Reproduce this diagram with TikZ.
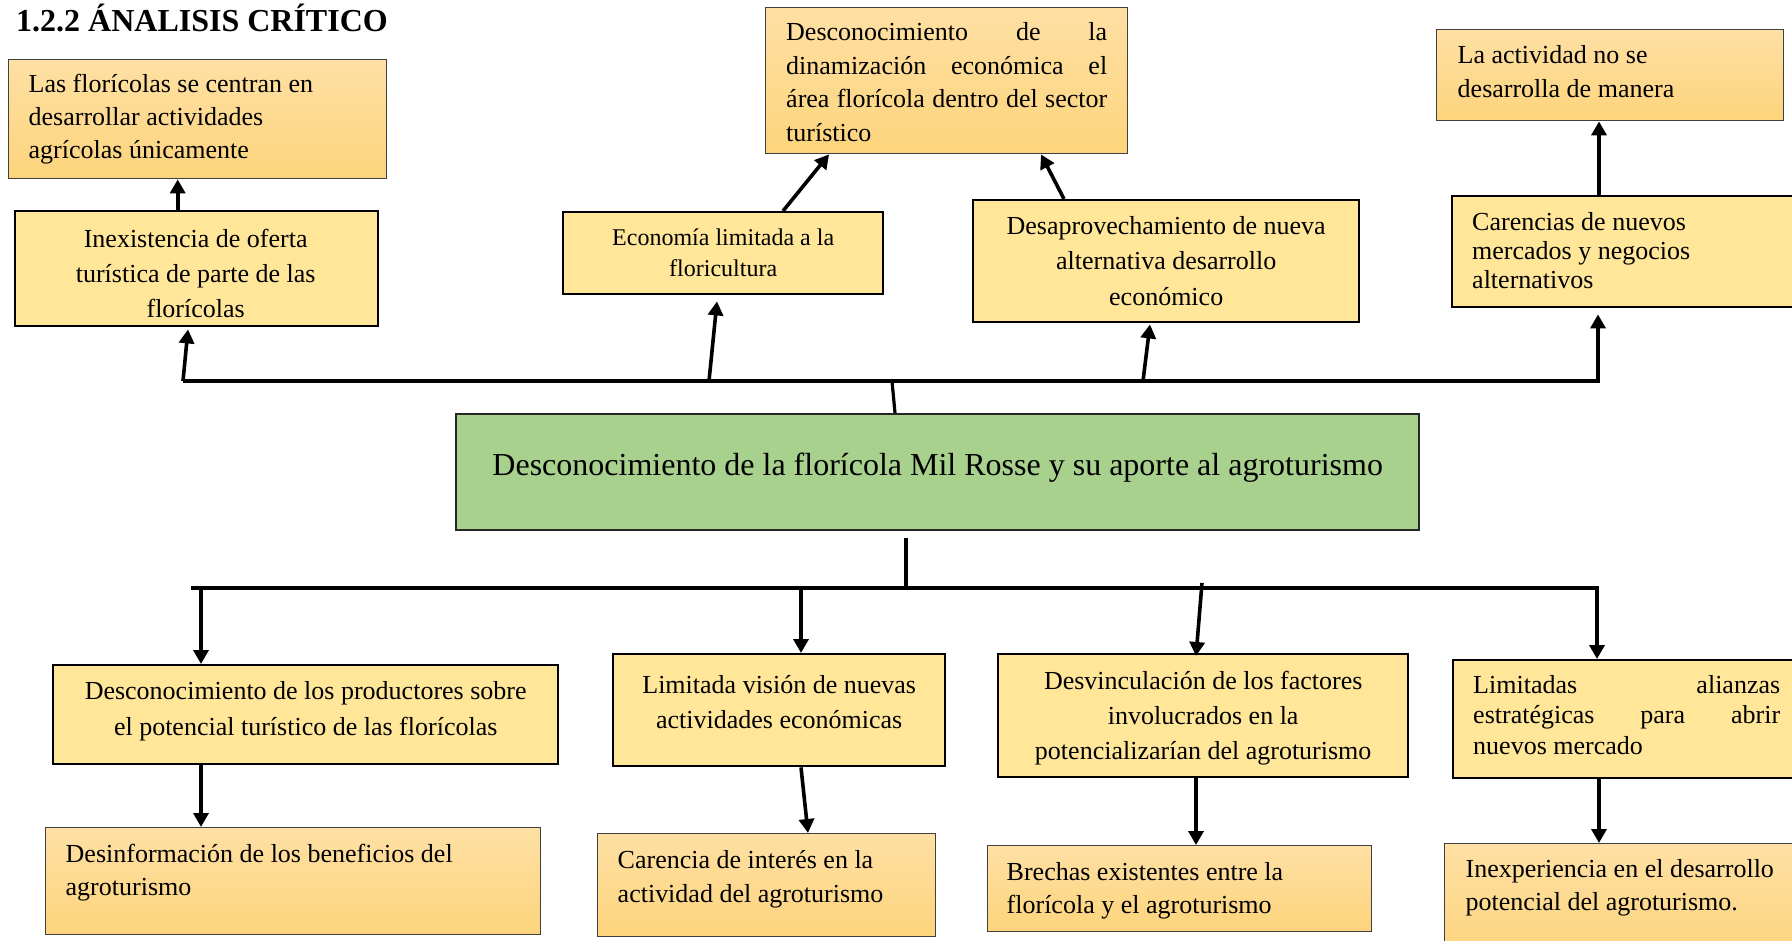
\documentclass[tikz,border=0pt]{standalone}
\usepackage{fontspec}
\setmainfont{Liberation Serif}
\usetikzlibrary{arrows.meta}
\definecolor{yel}{HTML}{FFE699}
\definecolor{otop}{HTML}{FEE0A4}
\definecolor{obot}{HTML}{FDD47C}
\definecolor{obord}{HTML}{404040}
\definecolor{grn}{HTML}{A9D18E}
\hyphenpenalty=10000 \exhyphenpenalty=10000 \tolerance=10000 \hbadness=10000
% #1 width #2 height #3 first baseline #4 baselineskip #5 font size #6 alignment #7 text
\newcommand{\bxt}[7]{\parbox[c][#2pt][t]{#1pt}{\fontsize{#5pt}{#4pt}\selectfont#6\rule{0pt}{#3pt}#7}}
\begin{document}
\begin{tikzpicture}[x=1pt,y=-1pt,
 ybox/.style={draw=black, line width=2.4pt, fill=yel, inner sep=0pt, anchor=north west},
 obox/.style={draw=obord, line width=1.4pt, top color=otop, bottom color=obot, inner sep=0pt, anchor=north west},
 gbox/.style={draw=black!85, line width=2.4pt, fill=grn, inner sep=0pt, anchor=north west},
 arr/.style={line width=3.6pt, -{Triangle[width=15pt,length=14pt]}},
 stem/.style={line width=3.2pt}]
\useasboundingbox (0,0) rectangle (1792,941);
\fill[white] (0,0) rectangle (1792,941);
\clip (0,0) rectangle (1792,941);

\node[anchor=base west, inner sep=0pt, font=\fontsize{32pt}{36pt}\selectfont\bfseries] (title) at (16,32) {1.2.2 ÁNALISIS CRÍTICO};

% top row
\node[obox, minimum width=378pt, minimum height=119pt] (A) at (8,59) {\bxt{338}{119}{33}{33}{26}{\raggedright}{Las florícolas se centran en\\desarrollar actividades\\agrícolas únicamente}};
\node[obox, minimum width=362pt, minimum height=146pt] (C) at (765,7) {\bxt{321}{146}{33}{33.5}{26}{}{Desconocimiento de la\linebreak dinamización económica el\linebreak área florícola dentro del sector\linebreak turístico}};
\node[obox, minimum width=347pt, minimum height=91pt] (F) at (1436,29) {\bxt{305}{91}{34}{34}{26}{\raggedright}{La actividad no se\\desarrolla de manera}};

% second row
\node[ybox, minimum width=363pt, minimum height=115pt] (B) at (14,210) {};
\begin{scope}
\clip (B.north west) rectangle ([yshift=10pt]B.south east);
\node[inner sep=0pt, anchor=north west] (Bt) at (B.north west) {\bxt{363}{115}{37}{35}{26}{\centering}{Inexistencia de oferta\\turística de parte de las\\florícolas}};
\end{scope}
\node[ybox, minimum width=320pt, minimum height=82pt] (D) at (562,211) {\bxt{300}{82}{33}{31}{24}{\centering}{Economía limitada a la\\floricultura}};
\node[ybox, minimum width=386pt, minimum height=122pt] (E) at (972,199) {\bxt{366}{122}{34}{35.5}{26}{\centering}{Desaprovechamiento de nueva\\alternativa desarrollo\\económico}};
\node[ybox, minimum width=359pt, minimum height=111pt] (G) at (1451,195) {\bxt{319}{111}{34}{29}{26}{\raggedright}{Carencias de nuevos\\mercados y negocios\\alternativos}};

% main problem
\node[gbox, minimum width=963pt, minimum height=116pt] (M0) at (455,413) {\bxt{940}{116}{61}{38}{32}{\centering}{Desconocimiento de la florícola Mil Rosse y su aporte al agroturismo}};

% lower rows
\node[ybox, minimum width=505pt, minimum height=99pt] (H) at (52,664) {\bxt{480}{99}{34}{36}{26}{\centering}{Desconocimiento de los productores sobre\\el potencial turístico de las florícolas}};
\node[ybox, minimum width=332pt, minimum height=112pt] (I) at (612,653) {\bxt{310}{112}{39}{35}{26}{\centering}{Limitada visión de nuevas\\actividades económicas}};
\node[ybox, minimum width=410pt, minimum height=123pt] (J) at (997,653) {\bxt{395}{123}{35}{35}{26}{\centering}{Desvinculación de los factores\\involucrados en la\\potencializarían del agroturismo}};
\node[ybox, minimum width=347pt, minimum height=118pt] (K) at (1452,659) {\bxt{307}{118}{33}{30.5}{26}{}{Limitadas alianzas\linebreak estratégicas para abrir\linebreak nuevos mercado}};

\node[obox, minimum width=495pt, minimum height=107pt] (L) at (45,827) {\bxt{455}{107}{35}{33}{26}{\raggedright}{Desinformación de los beneficios del\\agroturismo}};
\node[obox, minimum width=338pt, minimum height=103pt] (M) at (597,833) {\bxt{298}{103}{35}{34}{26}{\raggedright}{Carencia de interés en la\\actividad del agroturismo}};
\node[obox, minimum width=384pt, minimum height=86pt] (N) at (987,845) {\bxt{346}{86}{35}{33}{26}{\raggedright}{Brechas existentes entre la\\florícola y el agroturismo}};
\node[obox, minimum width=366pt, minimum height=117pt] (O) at (1444,843) {\bxt{324}{117}{34}{33}{26}{\raggedright}{Inexperiencia en el desarrollo\\potencial del agroturismo.}};

% upper bus
\coordinate (ubL) at (183,381);
\coordinate (ubD) at (709,381);
\coordinate (ubC) at (892,381);
\coordinate (ubE) at (1143,381);
\coordinate (ubR) at (1598,381);
\draw[arr, line width=4pt] (ubL) -- (ubR) -- ([xshift=147pt,yshift=-6pt]G.south west);
\draw[arr] (ubL) -- ([xshift=174pt,yshift=-2pt]B.south west);
\draw[arr] (ubD) -- ([xshift=155pt,yshift=-6pt]D.south west);
\draw[arr] (ubE) -- ([xshift=178pt,yshift=-1pt]E.south west);
\draw[stem] (ubC) -- ([xshift=440pt]M0.north west);

% effects to top
\draw[arr] ([xshift=-19pt]B.north) -- ([xshift=-20pt]A.south);
\draw[arr] ([xshift=221pt]D.north west) -- ([xshift=64pt]C.south west);
\draw[arr] ([xshift=92pt]E.north west) -- ([xshift=276pt]C.south west);
\draw[arr] ([xshift=148pt]G.north west) -- ([xshift=163pt]F.south west);

% lower bus
\coordinate (lbL) at (191,588);
\coordinate (lbH) at (201,588);
\coordinate (lbI) at (801,588);
\coordinate (lbC) at (906,586);
\coordinate (lbJ) at (1202,583);
\coordinate (lbR) at (1597,588);
\draw[stem] ([xshift=451pt,yshift=-7pt]M0.south west) -- (lbC);
\draw[arr, line width=4pt] (lbL) -- (lbR) -- ([xshift=145pt]K.north west);
\draw[arr] (lbH) -- ([xshift=149pt]H.north west);
\draw[arr] (lbI) -- ([xshift=189pt]I.north west);
\draw[arr] (lbJ) -- ([xshift=199pt,yshift=-3pt]J.north west);

% causes downward
\draw[arr] ([xshift=149pt]H.south west) -- ([xshift=156pt]L.north west);
\draw[arr] ([xshift=189pt]I.south west) -- ([xshift=211pt]M.north west);
\draw[arr] ([xshift=199pt]J.south west) -- ([xshift=209pt]N.north west);
\draw[arr] ([xshift=147pt]K.south west) -- ([xshift=155pt]O.north west);
\end{tikzpicture}
\end{document}
